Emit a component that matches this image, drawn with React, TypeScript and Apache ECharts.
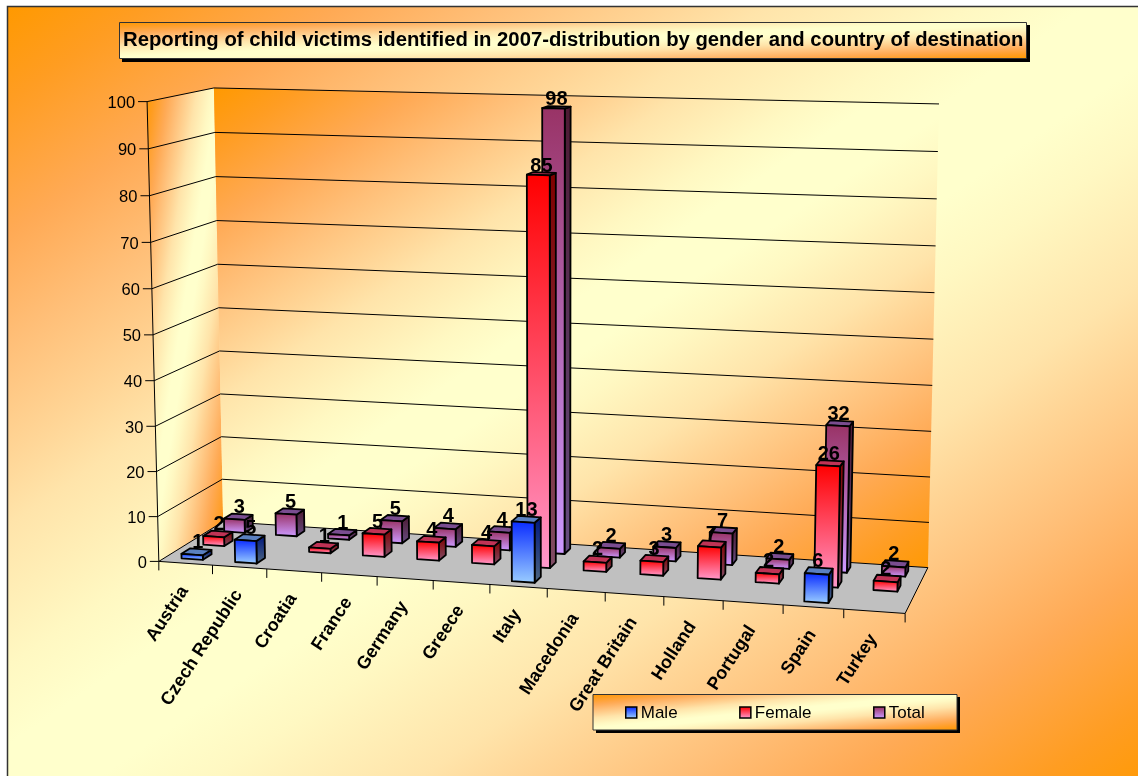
import React, { useEffect, useRef } from "react";
import * as echarts from "echarts";

const titleText = "Reporting of child victims identified in 2007-distribution by gender and country of destination";
const categories = ["Austria", "Czech Republic", "Croatia", "France", "Germany", "Greece", "Italy", "Macedonia", "Great Britain", "Holland", "Portugal", "Spain", "Turkey"];
const maleValues = [1, 5, null, null, null, null, 13, null, null, null, null, 6, null];
const femaleValues = [2, null, 1, 5, 4, 4, 85, 2, 3, 7, 2, 26, 2];
const totalValues = [3, 5, 1, 5, 4, 4, 98, 2, 3, 7, 2, 32, 2];
const valueTicks = [0, 10, 20, 30, 40, 50, 60, 70, 80, 90, 100];

const FONT = '"Liberation Sans", Arial, sans-serif';
const W = 1138;
const H = 776;

// Camera calibration: (across, height, depth) -> page position, fitted to the box corners.
const calibration: number[][] = [
  [0, 0, 0, 159, 561],
  [1, 0, 0, 905, 614],
  [1, 0, 1, 928, 567],
  [0, 0, 1, 223, 522],
  [0, 1, 0, 147, 101.5],
  [0, 1, 1, 214, 88],
  [1, 1, 1, 939, 104],
];

function solveCamera(rows: number[][]): number[] {
  const n = 11;
  const A: number[][] = [];
  const b: number[] = [];
  rows.forEach(([u, h, z, px, py]) => {
    A.push([u, h, z, 1, 0, 0, 0, 0, -px * u, -px * h, -px * z]);
    b.push(px);
    A.push([0, 0, 0, 0, u, h, z, 1, -py * u, -py * h, -py * z]);
    b.push(py);
  });
  const M: number[][] = [];
  for (let i = 0; i < n; i++) {
    const row: number[] = [];
    for (let j = 0; j < n; j++) {
      let s = 0;
      for (let k = 0; k < A.length; k++) s += A[k][i] * A[k][j];
      row.push(s);
    }
    let s = 0;
    for (let k = 0; k < A.length; k++) s += A[k][i] * b[k];
    row.push(s);
    M.push(row);
  }
  for (let c = 0; c < n; c++) {
    let p = c;
    for (let r = c + 1; r < n; r++) if (Math.abs(M[r][c]) > Math.abs(M[p][c])) p = r;
    [M[c], M[p]] = [M[p], M[c]];
    for (let r = 0; r < n; r++) {
      if (r === c) continue;
      const f = M[r][c] / M[c][c];
      for (let j = c; j <= n; j++) M[r][j] -= f * M[c][j];
    }
  }
  return M.map((row, i) => row[n] / row[i]);
}

const cam = solveCamera(calibration);
function project(u: number, h: number, z: number): number[] {
  const w = cam[8] * u + cam[9] * h + cam[10] * z + 1;
  return [
    (cam[0] * u + cam[1] * h + cam[2] * z + cam[3]) / w,
    (cam[4] * u + cam[5] * h + cam[6] * z + cam[7]) / w,
  ];
}

const halfRamp: [number, string][] = [
  [0, "#ff9900"],
  [0.06, "#ff9d22"],
  [0.145, "#ffaa55"],
  [0.215, "#ffbf78"],
  [0.285, "#ffd596"],
  [0.33, "#ffe4aa"],
  [0.42, "#fff8c2"],
  [0.47, "#ffffcc"],
];
const diag = () =>
  new echarts.graphic.LinearGradient(0, 0, 1, 1, [
    ...halfRamp.map(([offset, color]) => ({ offset, color })),
    ...halfRamp.slice().reverse().map(([offset, color]) => ({ offset: 1 - offset, color })),
  ]);
const vert = (a: string, b: string) =>
  new echarts.graphic.LinearGradient(0, 0, 0, 1, [
    { offset: 0, color: a },
    { offset: 1, color: b },
  ]);

const styles = {
  Male: { row: 0, front: ["#0a2cff", "#99ccff"], side: ["#00187f", "#4d6680"], top: "#5a80c0" },
  Female: { row: 1, front: ["#ff0000", "#ff99cc"], side: ["#800000", "#804d66"], top: "#c03355" },
  Total: { row: 2, front: ["#993366", "#cc99ff"], side: ["#4d1a33", "#664d80"], top: "#7a4d90" },
} as const;

function toUH(api: any, params: any, cat: number, val: number) {
  const cs = params.coordSys;
  const [px, py] = api.coord([cat, val]);
  return { u: (px - cs.x) / cs.width, h: 1 - (py - cs.y) / cs.height, bw: api.size([1, 0])[0] / cs.width };
}

function barSeries(name: keyof typeof styles, values: (number | null)[]) {
  const st = styles[name];
  const data = values.map((v, i) => [i, v]).filter((d) => d[1] !== null);
  return {
    name,
    type: "custom",
    coordinateSystem: "cartesian2d",
    z: 3,
    silent: true,
    itemStyle: { color: vert(st.front[0], st.front[1]), borderColor: "#000", borderWidth: 1.5 },
    data,
    renderItem(params: any, api: any) {
      const cat = api.value(0);
      const val = api.value(1);
      const { u, h, bw } = toUH(api, params, cat, val);
      const x0 = u - bw * 0.2;
      const x1 = u + bw * 0.2;
      const z0 = (st.row + 0.3) / 3;
      const z1 = (st.row + 0.7) / 3;
      const common = { stroke: "#000", lineWidth: 1.8, lineJoin: "round" };
      const poly = (pts: number[][], fill: any) => ({ type: "polygon", shape: { points: pts }, style: { ...common, fill } });
      const top = project((x0 + x1) / 2, h, z1);
      return {
        type: "group",
        children: [
          poly([project(x1, 0, z0), project(x1, 0, z1), project(x1, h, z1), project(x1, h, z0)], vert(st.side[0], st.side[1])),
          poly([project(x0, h, z0), project(x1, h, z0), project(x1, h, z1), project(x0, h, z1)], st.top),
          poly([project(x0, 0, z0), project(x1, 0, z0), project(x1, h, z0), project(x0, h, z0)], vert(st.front[0], st.front[1])),
          {
            type: "text",
            z2: 50,
            style: {
              text: String(val),
              x: top[0] - 3,
              y: top[1] + 2,
              align: "center",
              verticalAlign: "bottom",
              fill: "#000",
              font: `bold 20px ${FONT}`,
            },
          },
        ],
      };
    },
  };
}

const wallSeries = {
  name: "walls",
  type: "custom",
  coordinateSystem: "cartesian2d",
  z: 2,
  silent: true,
  data: [[0, 0]],
  renderItem() {
    const poly = (pts: number[][], fill: any) => ({ type: "polygon", shape: { points: pts }, style: { fill, stroke: "none" } });
    const line = (a: number[], b: number[]) => ({ type: "line", shape: { x1: a[0], y1: a[1], x2: b[0], y2: b[1] }, style: { stroke: "#000", lineWidth: 1 } });
    return {
      type: "group",
      children: [
        poly([project(0, 0, 0), project(0, 0, 1), project(0, 1, 1), project(0, 1, 0)], diag()),
        poly([project(0, 0, 1), project(1, 0, 1), project(1, 1, 1), project(0, 1, 1)], diag()),
        poly([project(0, 0, 0), project(1, 0, 0), project(1, 0, 1), project(0, 0, 1)], "#c0c0c0"),
        line(project(0, 0, 0), project(0, 1, 0)),
        line(project(0, 0, 0), project(1, 0, 0)),
        line(project(1, 0, 0), project(1, 0, 1)),
      ],
    };
  },
};

const valueAxisSeries = {
  name: "valueAxis",
  type: "custom",
  coordinateSystem: "cartesian2d",
  z: 2,
  silent: true,
  data: valueTicks.map((v) => [0, v]),
  renderItem(params: any, api: any) {
    const val = api.value(1);
    const { h } = toUH(api, params, 0, val);
    const a = project(0, h, 0);
    const b = project(0, h, 1);
    const c = project(1, h, 1);
    const seg = (p: number[], q: number[]) => ({ type: "line", shape: { x1: p[0], y1: p[1], x2: q[0], y2: q[1] }, style: { stroke: "#000", lineWidth: 1 } });
    return {
      type: "group",
      children: [
        seg(b, c),
        seg(a, b),
        seg([a[0] - 9, a[1]], a),
        {
          type: "text",
          style: { text: String(val), x: a[0] - 12, y: a[1] + 0.5, align: "right", verticalAlign: "middle", fill: "#000", font: `16.5px ${FONT}` },
        },
      ],
    };
  },
};

const categoryAxisSeries = {
  name: "categoryAxis",
  type: "custom",
  coordinateSystem: "cartesian2d",
  z: 2,
  silent: true,
  data: categories.map((_, i) => [i, 0]),
  renderItem(params: any, api: any) {
    const i = api.value(0);
    const { u, bw } = toUH(api, params, i, 0);
    const children: any[] = [];
    const tick = (uu: number) => {
      const p = project(uu, 0, 0);
      children.push({ type: "line", shape: { x1: p[0], y1: p[1], x2: p[0], y2: p[1] + 9 }, style: { stroke: "#000", lineWidth: 1 } });
    };
    tick(u - bw / 2);
    if (i === categories.length - 1) tick(u + bw / 2);
    const m = project(u, 0, 0);
    children.push({
      type: "text",
      x: m[0] - 2,
      y: m[1] + 24,
      rotation: (57 * Math.PI) / 180,
      style: { text: categories[i], x: 0, y: 0, align: "right", verticalAlign: "middle", fill: "#000", font: `bold 18px ${FONT}` },
    });
    return { type: "group", children };
  },
};

export default function App() {
  const ref = useRef<HTMLDivElement>(null);
  useEffect(() => {
    const chart = echarts.init(ref.current!, undefined, { renderer: "svg" });
    const swatch = (n: keyof typeof styles) => ({
      name: n,
      icon: "rect",
      itemStyle: { color: vert(styles[n].front[0], styles[n].front[1]), borderColor: "#000", borderWidth: 1.5 },
    });
    chart.setOption({
      animation: false,
      title: {
        text: titleText,
        left: 123,
        top: 29,
        padding: 0,
        z: 21,
        textStyle: { fontFamily: FONT, fontWeight: "bold", fontSize: 20.3, color: "#000" },
      },
      legend: {
        left: 625,
        top: 704,
        padding: 0,
        z: 21,
        itemWidth: 11,
        itemHeight: 11,
        itemGap: 61.5,
        selectedMode: false,
        textStyle: { fontFamily: FONT, fontSize: 17, color: "#000", padding: [0, 0, 0, -1] },
        data: [swatch("Male"), swatch("Female"), swatch("Total")],
      },
      grid: { left: 0, right: 0, top: 0, bottom: 0 },
      xAxis: { type: "category", data: categories, show: false },
      yAxis: { type: "value", min: 0, max: 100, interval: 10, show: false },
      graphic: {
        elements: [
          { type: "rect", z: -10, shape: { x: 7.5, y: 6.5, width: W + 10, height: H + 10 }, style: { fill: diag(), stroke: "#333", lineWidth: 1.5 } },
          { type: "rect", z: 20, shape: { x: 122, y: 25, width: 908, height: 37 }, style: { fill: "#000" } },
          { type: "rect", z: 20, shape: { x: 119.5, y: 22.5, width: 907, height: 36 }, style: { fill: diag(), stroke: "#333", lineWidth: 1 } },
          { type: "rect", z: 20, shape: { x: 596, y: 697, width: 364, height: 36 }, style: { fill: "#000" } },
          { type: "rect", z: 20, shape: { x: 593, y: 694.5, width: 364, height: 35.5 }, style: { fill: diag(), stroke: "#333", lineWidth: 1 } },
        ],
      },
      series: [
        wallSeries,
        valueAxisSeries,
        categoryAxisSeries,
        barSeries("Total", totalValues),
        barSeries("Female", femaleValues),
        barSeries("Male", maleValues),
      ],
    });
    return () => chart.dispose();
  }, []);
  return <div ref={ref} style={{ position: "fixed", left: 0, top: 0, width: W, height: H }} />;
}
